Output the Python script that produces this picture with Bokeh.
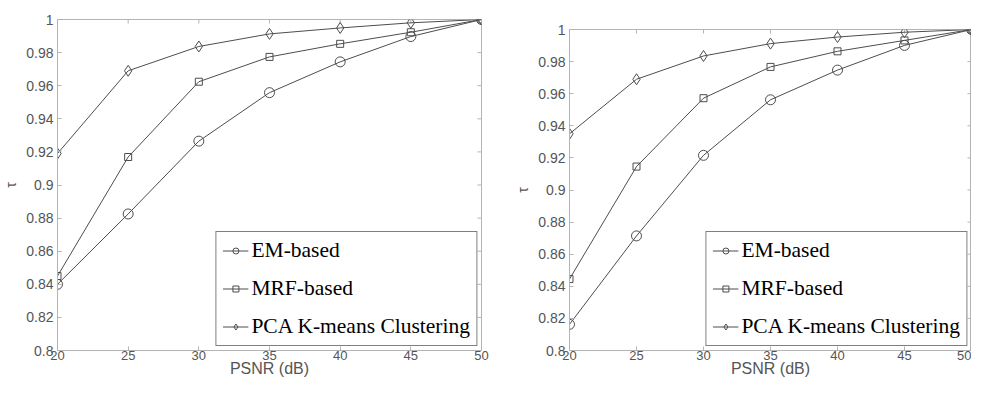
import math
from bokeh.plotting import figure
from bokeh.layouts import row, column
from bokeh.models import FixedTicker, Range1d, Spacer
from bokeh.embed import file_html
from bokeh.resources import INLINE

psnr = [20, 25, 30, 35, 40, 45, 50]
series_names = ["EM-based", "MRF-based", "PCA K-means Clustering"]

left_em = [0.840, 0.8825, 0.9265, 0.9558, 0.9744, 0.9897, 1.0]
left_mrf = [0.845, 0.9169, 0.9624, 0.9774, 0.9853, 0.9923, 1.0]
left_pca = [0.919, 0.969, 0.9837, 0.9913, 0.9949, 0.998, 1.0]

right_em = [0.8163, 0.8714, 0.9216, 0.9562, 0.9747, 0.9901, 1.0]
right_mrf = [0.8445, 0.9146, 0.9572, 0.9767, 0.9864, 0.9932, 1.0]
right_pca = [0.935, 0.969, 0.9835, 0.9912, 0.9953, 0.9983, 1.0]

x_ticks = [20, 25, 30, 35, 40, 45, 50]
y_ticks = [0.8, 0.82, 0.84, 0.86, 0.88, 0.9, 0.92, 0.94, 0.96, 0.98, 1.0]
y_tick_labels = {0.8: "0.8", 0.82: "0.82", 0.84: "0.84", 0.86: "0.86", 0.88: "0.88",
                 0.9: "0.9", 0.92: "0.92", 0.94: "0.94", 0.96: "0.96", 0.98: "0.98", 1.0: "1"}

LINE = "#4d4d4d"
AXIS = "#b4b4b4"
TEXT = "#555555"
markers = ["circle", "square", "diamond"]
msizes = [10, 7, 11]


def make_plot(width, height, b_left, b_right, b_top, b_bottom, data):
    x0, x1 = x_ticks[0], x_ticks[-1]
    y0, y1 = y_ticks[0], y_ticks[-1]
    p = figure(width=width, height=height, output_backend="svg", toolbar_location=None,
               x_range=Range1d(x0, x1), y_range=Range1d(y0, y1),
               min_border_left=b_left, min_border_right=b_right,
               min_border_top=b_top, min_border_bottom=b_bottom,
               x_axis_label="PSNR (dB)", y_axis_label="τ")
    p.grid.visible = False
    p.outline_line_color = AXIS
    p.outline_line_width = 1
    p.background_fill_color = "white"
    p.border_fill_color = "white"

    for ax in (p.xaxis[0], p.yaxis[0]):
        ax.axis_line_color = AXIS
        ax.major_tick_line_color = AXIS
        ax.minor_tick_line_color = None
        ax.major_tick_in = 4
        ax.major_tick_out = 0
        ax.major_label_text_color = TEXT
        ax.major_label_text_font = "Liberation Sans"
        ax.major_label_text_font_size = "13px"
        ax.axis_label_text_color = TEXT
        ax.axis_label_text_font = "Liberation Sans"
        ax.axis_label_text_font_style = "normal"
        ax.axis_label_text_font_size = "16px"
        ax.major_label_standoff = 0
        ax.axis_label_standoff = -3
    p.xaxis[0].ticker = FixedTicker(ticks=x_ticks)
    p.yaxis[0].ticker = FixedTicker(ticks=y_ticks)
    p.yaxis[0].major_label_overrides = y_tick_labels
    p.yaxis[0].major_label_text_font_size = "14px"
    p.yaxis[0].axis_label_text_font_size = "14px"
    p.yaxis[0].major_label_standoff = 4
    p.yaxis[0].axis_label_standoff = 4

    # inward ticks on the top and right edges of the box
    p.ray(x=x_ticks, y=[y1] * len(x_ticks), length=4, length_units="screen",
          angle=-math.pi / 2, line_color=AXIS, line_width=1)
    p.ray(x=[x1] * len(y_ticks), y=y_ticks, length=4, length_units="screen",
          angle=math.pi, line_color=AXIS, line_width=1)

    for name, ys, mk, ms in zip(series_names, data, markers, msizes):
        p.line(psnr, ys, line_color=LINE, line_width=1, legend_label=name)
        p.scatter(psnr, ys, marker=mk, size=ms, line_color=LINE, line_width=1,
                  fill_alpha=0, legend_label=name)

    lg = p.legend[0]
    lg.location = "bottom_right"
    lg.margin = 4
    lg.border_line_color = "black"
    lg.border_line_width = 1
    lg.background_fill_alpha = 1
    lg.label_text_font = "Liberation Serif"
    lg.label_text_font_size = "21.5px"
    lg.label_text_color = "black"
    lg.padding = 6
    lg.spacing = 13
    lg.glyph_height = 15
    lg.label_height = 24
    lg.glyph_width = 26
    lg.label_standoff = 3
    return p


p1 = make_plot(512, 379, 51, 31, 19, 20, [left_em, left_mrf, left_pca])
p2 = make_plot(459, 370, 51, 0, 20, 20, [right_em, right_mrf, right_pca])

layout = row(p1, column(Spacer(width=459, height=9), p2))
open("out.html", "w").write(file_html(layout, INLINE))
